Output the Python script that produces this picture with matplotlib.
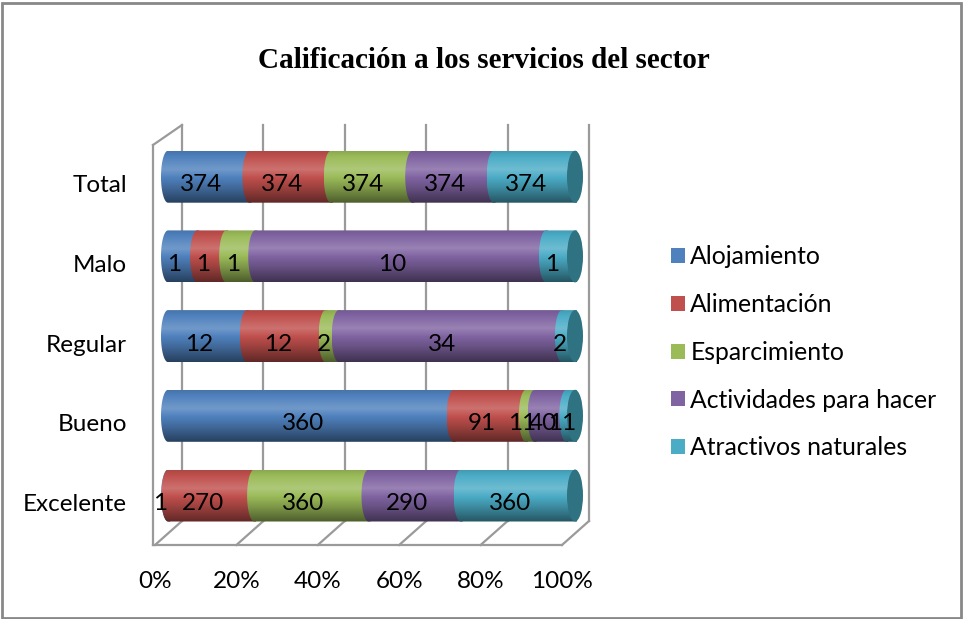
import numpy as np
import matplotlib
matplotlib.use("Agg")
import matplotlib.pyplot as plt
from matplotlib.patches import Patch, PathPatch, Ellipse, Rectangle
from matplotlib.path import Path
import matplotlib.colors as mcolors

# ---- data ----
categories = ["Excelente", "Bueno", "Regular", "Malo", "Total"]
series = ["Alojamiento", "Alimentación", "Esparcimiento",
          "Actividades para hacer", "Atractivos naturales"]
alojamiento = [1, 360, 12, 1, 374]
alimentacion = [270, 91, 12, 1, 374]
esparcimiento = [360, 11, 2, 1, 374]
actividades = [290, 40, 34, 10, 374]
atractivos = [360, 11, 2, 1, 374]
tick_labels = ["0%", "20%", "40%", "60%", "80%", "100%"]

colors = ["#4F81BD", "#C0504D", "#9BBB59", "#8064A2", "#4BACC6"]
cap_color = "#2F7282"

values = np.array([alojamiento, alimentacion, esparcimiento, actividades, atractivos], dtype=float)
pct = values / values.sum(axis=0) * 100.0

W, H = 963, 619
fig = plt.figure(figsize=(W / 100, H / 100), dpi=100)
FONT = ["Lato", "DejaVu Sans"]

# axes geometry: x in percent, y in row index
px_per_pct = 4.07
px_per_row = 79.7
x0_px = 168.0
row0_px = 495.5
xlim = (-10, 110)
ylim = (-1.0, 5.5)
ax_left_px = x0_px + xlim[0] * px_per_pct
ax_w_px = (xlim[1] - xlim[0]) * px_per_pct
ax_bottom_px = row0_px - ylim[0] * px_per_row  # pixel from top
ax_h_px = (ylim[1] - ylim[0]) * px_per_row
ax = fig.add_axes([ax_left_px / W, (H - ax_bottom_px) / H, ax_w_px / W, ax_h_px / H])
ax.set_xlim(*xlim)
ax.set_ylim(*ylim)
ax.axis("off")

def dx(px):
    return px / px_per_pct

def dy(px):
    return px / px_per_row

grid_c = "#9a9a9a"
front_off = dx(-13)
back_off = dx(14)
y_front = dy(495.5 - 545)
y_back = dy(495.5 - 521)
y_top = dy(495.5 - 125)
y_left_top = dy(495.5 - 145)
ticks = np.arange(0, 101, 20)
# back wall vertical grid lines and floor lines
for t in ticks:
    ax.plot([t + back_off, t + back_off], [y_back, y_top], color=grid_c, lw=1.6, zorder=1)
    ax.plot([t + front_off, t + back_off], [y_front, y_back], color=grid_c, lw=1.6, zorder=1)
# left wall
lx = front_off - dx(2)
ax.plot([lx, lx], [y_front, y_left_top], color=grid_c, lw=1.6, zorder=1)
ax.plot([lx, back_off], [y_left_top, y_top], color=grid_c, lw=1.6, zorder=1)
# floor front edge
ax.plot([lx, 100 + front_off], [y_front, y_front], color=grid_c, lw=1.6, zorder=1)

# ---- cylinders ----
bar_h = dy(52)
cap_w = dx(7)

def shade(base, n=60):
    rgb = np.array(mcolors.to_rgb(base))
    t = np.linspace(0, 1, n)
    light = np.interp(t, [0, 0.1, 0.35, 0.7, 1.0], [0.9, 1.0, 1.15, 0.82, 0.5])
    arr = np.empty((n, 1, 3))
    for i, l in enumerate(light):
        if l >= 1:
            c = rgb + (1 - rgb) * (l - 1) * 1.3
        else:
            c = rgb * l
        arr[i, 0] = np.clip(c, 0, 1)
    return arr

def seg_path(xs, xe, yc, h, cw):
    # rectangle with half-ellipse bulging on the left
    th = np.linspace(np.pi / 2, 3 * np.pi / 2, 40)
    left = np.column_stack([xs + cw * np.cos(th), yc + h / 2 * np.sin(th)])
    pts = np.vstack([[xe, yc + h / 2], left, [xe, yc - h / 2], [xe, yc + h / 2]])
    return Path(pts)

lab_dx = dx(-8)
lab_dy = dy(-8)
for r, cat in enumerate(categories):
    left = 0.0
    for s in range(len(series)):
        w = pct[s, r]
        xs, xe = left, left + w
        path = seg_path(xs, xe + 0.5, r, bar_h, cap_w)
        patch = PathPatch(path, facecolor="none", edgecolor="none")
        ax.add_patch(patch)
        im = ax.imshow(shade(colors[s]), extent=(xs - cap_w, xe + 0.5, r - bar_h / 2, r + bar_h / 2),
                       aspect="auto", zorder=2 + s * 0.1, interpolation="bilinear")
        im.set_clip_path(patch)
        left = xe
    cap = Ellipse((100, r), 2 * dx(8), bar_h, facecolor=cap_color, edgecolor="none", zorder=3)
    ax.add_patch(cap)
    # value labels
    left = 0.0
    for s in range(len(series)):
        w = pct[s, r]
        ax.text(left + w / 2 + lab_dx, r + lab_dy, f"{int(values[s, r])}", ha="center", va="center",
                fontsize=17.5, family=FONT, color="black", zorder=5)
        left += w
    # category labels
    ax.text(dx(127 - 168), r - dy(9), cat, ha="right", va="center", fontsize=17.5,
            family=FONT, color="black")

ax.set_xlim(*xlim)
ax.set_ylim(*ylim)

# x tick labels on front floor
for t, lab in zip(ticks, tick_labels):
    ax.text(t + front_off, dy(495.5 - 581), lab, ha="center", va="center",
            fontsize=17.5, family=FONT, color="black")

# title
fig.text(484 / W, 1 - 60 / H, "Calificación a los servicios del sector",
         ha="center", va="center", fontsize=21, fontweight="bold",
         family=["Liberation Serif", "DejaVu Serif"])

# legend
handles = [Patch(facecolor=c, edgecolor="none") for c in colors]
leg = fig.legend(handles, series, loc="upper left", bbox_to_anchor=(659 / W, 1 - 233 / H),
                 frameon=False, prop={"family": FONT, "size": 17.8}, handlelength=0.55,
                 handleheight=0.55, handletextpad=0.22, labelspacing=1.0, borderpad=0)

# border
fig.patches.append(Rectangle((2 / W, 1 / H), (W - 4) / W, (H - 4) / H, transform=fig.transFigure,
                             fill=False, edgecolor="#888888", lw=2))

fig.savefig("out.png", dpi=100)
